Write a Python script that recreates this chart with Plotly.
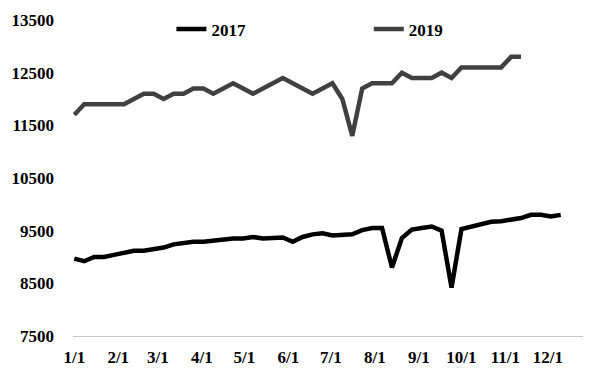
import pandas as pd
import plotly.graph_objects as go

# Weekly observations, plotted on a common calendar (month/day)
start_date = "2017-01-01"

values_2017 = [8970, 8920, 9000, 9000, 9040, 9070, 9120, 9120, 9150, 9180,
               9240, 9270, 9290, 9290, 9310, 9340, 9350, 9350, 9380, 9350,
               9370, 9370, 9290, 9380, 9430, 9450, 9410, 9430, 9430, 9510,
               9550, 9550, 8800, 9360, 9520, 9550, 9580, 9500, 8420, 9530,
               9580, 9630, 9670, 9680, 9700, 9740, 9800, 9800, 9770, 9800]

values_2019 = [11700, 11900, 11900, 11900, 11900, 11900, 12000, 12100, 12100, 12000,
               12100, 12100, 12200, 12200, 12100, 12200, 12300, 12200, 12100, 12200,
               12300, 12400, 12300, 12200, 12100, 12200, 12300, 12000, 11300, 12200,
               12300, 12300, 12300, 12500, 12400, 12400, 12400, 12500, 12400, 12600,
               12600, 12600, 12600, 12600, 12800, 12800]

series_names = ["2017", "2019"]
month_ticks = pd.date_range("2017-01-01", periods=12, freq="MS")
month_labels = ["1/1", "2/1", "3/1", "4/1", "5/1", "6/1",
                "7/1", "8/1", "9/1", "10/1", "11/1", "12/1"]
y_ticks = [7500, 8500, 9500, 10500, 11500, 12500, 13500]
y_labels = [str(v) for v in y_ticks]

dates_2017 = pd.date_range(start_date, periods=len(values_2017), freq="7D")
dates_2019 = pd.date_range(start_date, periods=len(values_2019), freq="7D")

font_family = "Liberation Serif"
tick_font = dict(family=font_family, size=17, color="#000000", weight="bold")

fig = go.Figure()
fig.add_trace(go.Scatter(x=dates_2017, y=values_2017, mode="lines", name=series_names[0],
                         line=dict(color="#000000", width=4.5), legend="legend",
                         showlegend=True))
fig.add_trace(go.Scatter(x=dates_2019, y=values_2019, mode="lines", name=series_names[1],
                         line=dict(color="#404040", width=4.5), legend="legend2",
                         showlegend=True))

fig.update_layout(
    width=594, height=369,
    margin=dict(l=73, r=11, t=20, b=33),
    paper_bgcolor="white", plot_bgcolor="white",
    font=tick_font,
    showlegend=True,
    legend=dict(x=0.193, y=0.97, xanchor="left", yanchor="middle",
                orientation="h", font=tick_font, bgcolor="rgba(0,0,0,0)"),
    legend2=dict(x=0.58, y=0.97, xanchor="left", yanchor="middle",
                 orientation="h", font=tick_font, bgcolor="rgba(0,0,0,0)"),
    xaxis=dict(type="date", range=["2016-12-31 02:00", "2017-12-25 17:00"],
               tickvals=month_ticks, ticktext=month_labels, tickfont=tick_font,
               showgrid=False, zeroline=False, showline=True, linecolor="#c8c8c8",
               linewidth=1, ticks="", ticklabelstandoff=6, automargin=False),
    yaxis=dict(range=[7500, 13500], tickvals=y_ticks, ticktext=y_labels, tickfont=tick_font,
               showgrid=False, zeroline=False, showline=False, ticks="",
               ticklabelstandoff=18, automargin=False),
)

fig.write_html("out.html")
